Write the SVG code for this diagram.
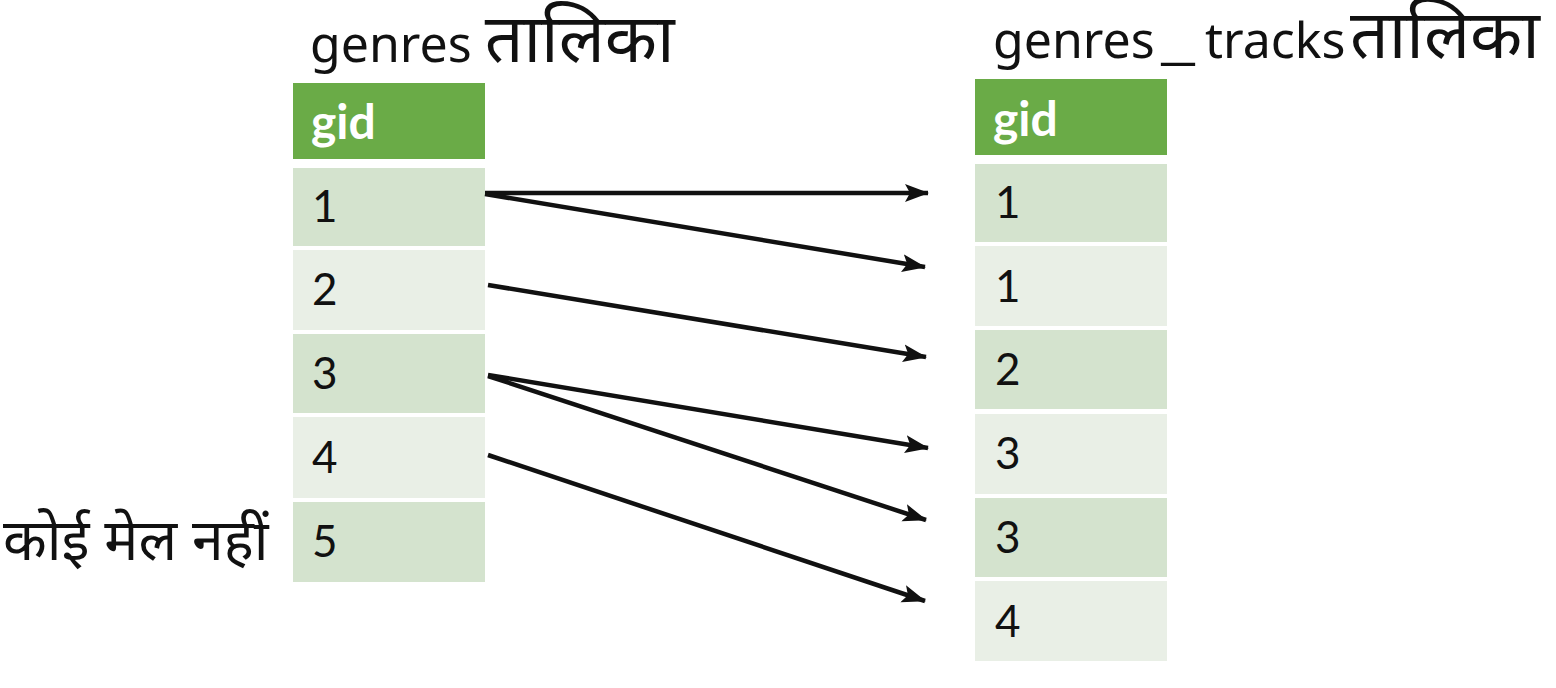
<svg xmlns="http://www.w3.org/2000/svg" width="1556" height="688" viewBox="0 0 1556 688">
<style>
.title{font-family:"Noto Sans","Noto Sans Devanagari","Open Sans",sans-serif;font-size:50px;fill:#111}
.dev{font-size:68px}
.hdr{fill:#6aab47}
.dark{fill:#d4e3ce}
.light{fill:#e9efe6}
.hd{font-family:Lato,"Liberation Sans",sans-serif;font-weight:bold;font-size:48px;fill:#fff}
.num{font-family:Lato,"Liberation Sans",sans-serif;font-size:44px;fill:#111}
.arr{stroke:#111;stroke-width:4.5;fill:none;marker-end:url(#ah)}
</style>
<defs>
<marker id="ah" markerUnits="userSpaceOnUse" markerWidth="26" markerHeight="20" refX="23" refY="9" orient="auto">
<path d="M0,0 L24,9 L0,18 L5,9 z" fill="#111"/>
</marker>
</defs>
<rect width="1556" height="688" fill="#fff"/>
<g id="genres-table">
<text class="title" x="310" y="62">genres <tspan class="dev">तालिका</tspan></text>
<rect class="hdr" x="293" y="83" width="192" height="76"/>
<text class="hd" x="311" y="139">gid</text>
<rect class="dark" x="293" y="168" width="192" height="78"/>
<text class="num" x="312" y="222">1</text>
<rect class="light" x="293" y="250" width="192" height="80"/>
<text class="num" x="312" y="305">2</text>
<rect class="dark" x="293" y="334" width="192" height="79"/>
<text class="num" x="312" y="389">3</text>
<rect class="light" x="293" y="417" width="192" height="81"/>
<text class="num" x="312" y="473">4</text>
<rect class="dark" x="293" y="502" width="192" height="80"/>
<text class="num" x="312" y="557">5</text>
</g>
<g id="no-match">
<text class="title" x="3" y="560" style="font-size:57px">कोई मेल नहीं</text>
</g>
<g id="genres-tracks-table">
<text class="title" x="993" y="58">genres<tspan x="1161" textLength="34" lengthAdjust="spacingAndGlyphs">_</tspan><tspan x="1205">tracks</tspan> <tspan class="dev" x="1350">तालिका</tspan></text>
<rect class="hdr" x="975" y="79" width="192" height="76"/>
<text class="hd" x="993" y="136">gid</text>
<rect class="dark" x="975" y="164" width="192" height="78"/>
<text class="num" x="995" y="218">1</text>
<rect class="light" x="975" y="246" width="192" height="80"/>
<text class="num" x="995" y="302">1</text>
<rect class="dark" x="975" y="330" width="192" height="79"/>
<text class="num" x="995" y="385">2</text>
<rect class="light" x="975" y="414" width="192" height="80"/>
<text class="num" x="995" y="469">3</text>
<rect class="dark" x="975" y="498" width="192" height="79"/>
<text class="num" x="995" y="553">3</text>
<rect class="light" x="975" y="581" width="192" height="80"/>
<text class="num" x="995" y="637">4</text>
</g>
<g id="connectors">
<line class="arr" x1="485" y1="193" x2="928" y2="193"/>
<line class="arr" x1="485" y1="194" x2="925" y2="267"/>
<line class="arr" x1="488" y1="285" x2="926" y2="357"/>
<line class="arr" x1="488" y1="375" x2="928" y2="448"/>
<line class="arr" x1="488" y1="376" x2="926" y2="520"/>
<line class="arr" x1="488" y1="455" x2="925" y2="601"/>
</g>
</svg>
